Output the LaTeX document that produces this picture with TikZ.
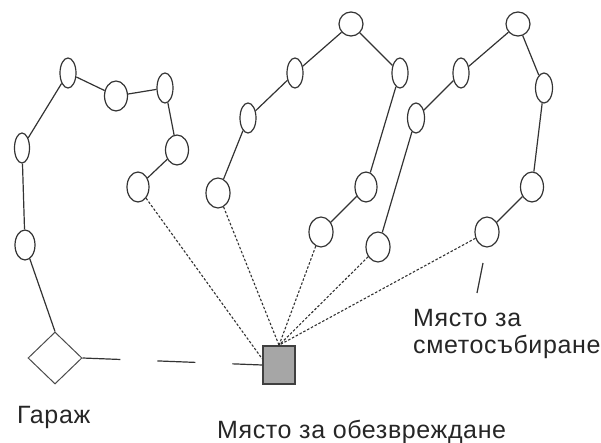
\documentclass[tikz,border=0pt]{standalone}
\usepackage{fontspec}
\setmainfont{Liberation Sans}
\newfontfamily\lblfont[LetterSpace=2.5]{Liberation Sans}
\usetikzlibrary{shapes.geometric,calc}
\begin{document}
\begin{tikzpicture}[x=1pt,y=-1pt,
  stop/.style={ellipse, draw=black!80, line width=1.2pt, inner sep=0pt, minimum width=#1, minimum height=30pt},
  stop/.default=16pt,
  topstop/.style={stop=24pt, minimum height=24pt},
  route/.style={draw=black!80, line width=1.2pt},
  tour/.style={draw=black!80, line width=1.1pt, dash pattern=on 2.5pt off 1.8pt},
  trip/.style={draw=black!80, line width=1.2pt, dash pattern=on 38pt off 37pt},
  garagebox/.style={diamond, draw=black!70, line width=1pt, inner sep=0pt, minimum width=54pt, minimum height=52pt, fill=white},
  depotbox/.style={rectangle, draw=black!75, line width=1.6pt, fill=black!35, inner sep=0pt, minimum width=32pt, minimum height=38pt},
  lbl/.style={font=\lblfont\fontsize{25}{27}\selectfont, text=black!85, inner sep=0pt}
]
\useasboundingbox (0,0) rectangle (601,443);

% garage and depot
\node[garagebox] (garage) at (55,358) {};
\node[depotbox] (depot) at (279,365) {};

% route 1
\node[stop=20pt] (a1) at (25,245) {};
\node[stop=15pt] (a2) at (22,148) {};
\node[stop] (a3) at (68,73) {};
\node[stop=23pt] (a4) at (116,96) {};
\node[stop] (a5) at (165,88) {};
\node[stop=23pt] (a6) at (177,150) {};
\node[stop=22pt] (a7) at (138,187) {};

% route 2
\node[stop=24pt] (b1) at (218,193) {};
\node[stop] (b2) at (248,118) {};
\node[stop] (b3) at (295,73) {};
\node[topstop] (b4) at (351,24) {};
\node[stop] (b5) at (400,73) {};
\node[stop=22pt] (b6) at (366,187) {};
\node[stop=24pt] (b7) at (321,232) {};

% route 3
\node[stop=24pt] (c1) at (378,247) {};
\node[stop=17pt] (c2) at (416,118) {};
\node[stop] (c3) at (461,73) {};
\node[topstop] (c4) at (518,24) {};
\node[stop=17pt] (c5) at (544,88) {};
\node[stop=23pt] (c6) at (532,187) {};
\node[stop=24pt] (c7) at (487,232) {};

% solid routes
\draw[route] (garage.north) -- (a1) -- (a2) -- (a3) -- (a4) -- (a5) -- (a6) -- (a7);
\draw[route] (b1) -- (b2) -- (b3) -- (b4) -- (b5) -- (b6) -- (b7);
\draw[route] (c1) -- (c2) -- (c3) -- (c4) -- (c5) -- (c6) -- (c7);

% dotted tours to depot
\draw[tour] (a7) -- (depot.160);
\draw[tour] (b1) -- (depot.north);
\draw[tour] (b7) -- (depot.north);
\draw[tour] (c1) -- (depot.north);
\draw[tour] (c7) -- (depot.north);

% long dashed trip garage - depot
\draw[trip] (garage.east) -- (depot.west);

% leader line
\coordinate (l1) at (483,263);
\coordinate (l2) at (477,293);
\draw[route] (l1) -- (l2);

% labels
\node[lbl, anchor=base west] (tg) at (17,423) {Гараж};
\node[lbl, anchor=base west] (td) at (217,438) {Място за обезвреждане};
\node[lbl, anchor=base west] (tc1) at (413,326) {Място за};
\node[lbl, anchor=base west] (tc2) at (413,353) {сметосъбиране};
\end{tikzpicture}
\end{document}
